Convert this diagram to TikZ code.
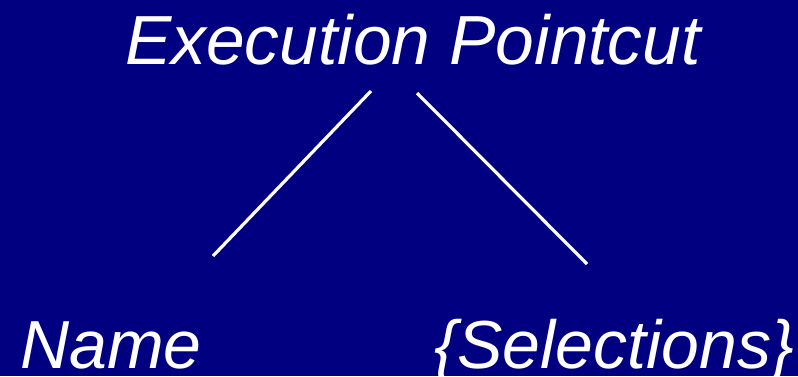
\documentclass[tikz,border=0pt]{standalone}
\usepackage{fontspec}
\setmainfont{Liberation Sans}
\usepackage{tikz}
\usetikzlibrary{positioning}
\definecolor{slidenavy}{RGB}{0,0,128}

\begin{document}
\begin{tikzpicture}[
        x=1pt, y=-1pt,
        term/.style={
            text=white,
            inner sep=0pt,
            font=\fontsize{68}{80}\selectfont\itshape
        },
        branch/.style={
            draw=white,
            line width=3.2pt
        }
    ]

    \fill[slidenavy] (0,0) rectangle (798,376);
    \useasboundingbox (0,0) rectangle (798,376);

    \node[term, anchor=base, font=\fontsize{69.5}{80}\selectfont\itshape] (pointcut) at (413,64) {Execution Pointcut};
    \node[term, anchor=base west] (name) at (20,368) {Name};
    \node[term, anchor=base east] (selections) at (794,368) {\{Selections\}};

    % free ends of the two branches
    \coordinate (leftTop) at (371,91);
    \coordinate (leftEnd) at (213,256);
    \coordinate (rightTop) at (417,93);
    \coordinate (rightEnd) at (587,264);

    \draw[branch] (leftTop) -- (leftEnd);
    \draw[branch] (rightTop) -- (rightEnd);

\end{tikzpicture}
\end{document}
